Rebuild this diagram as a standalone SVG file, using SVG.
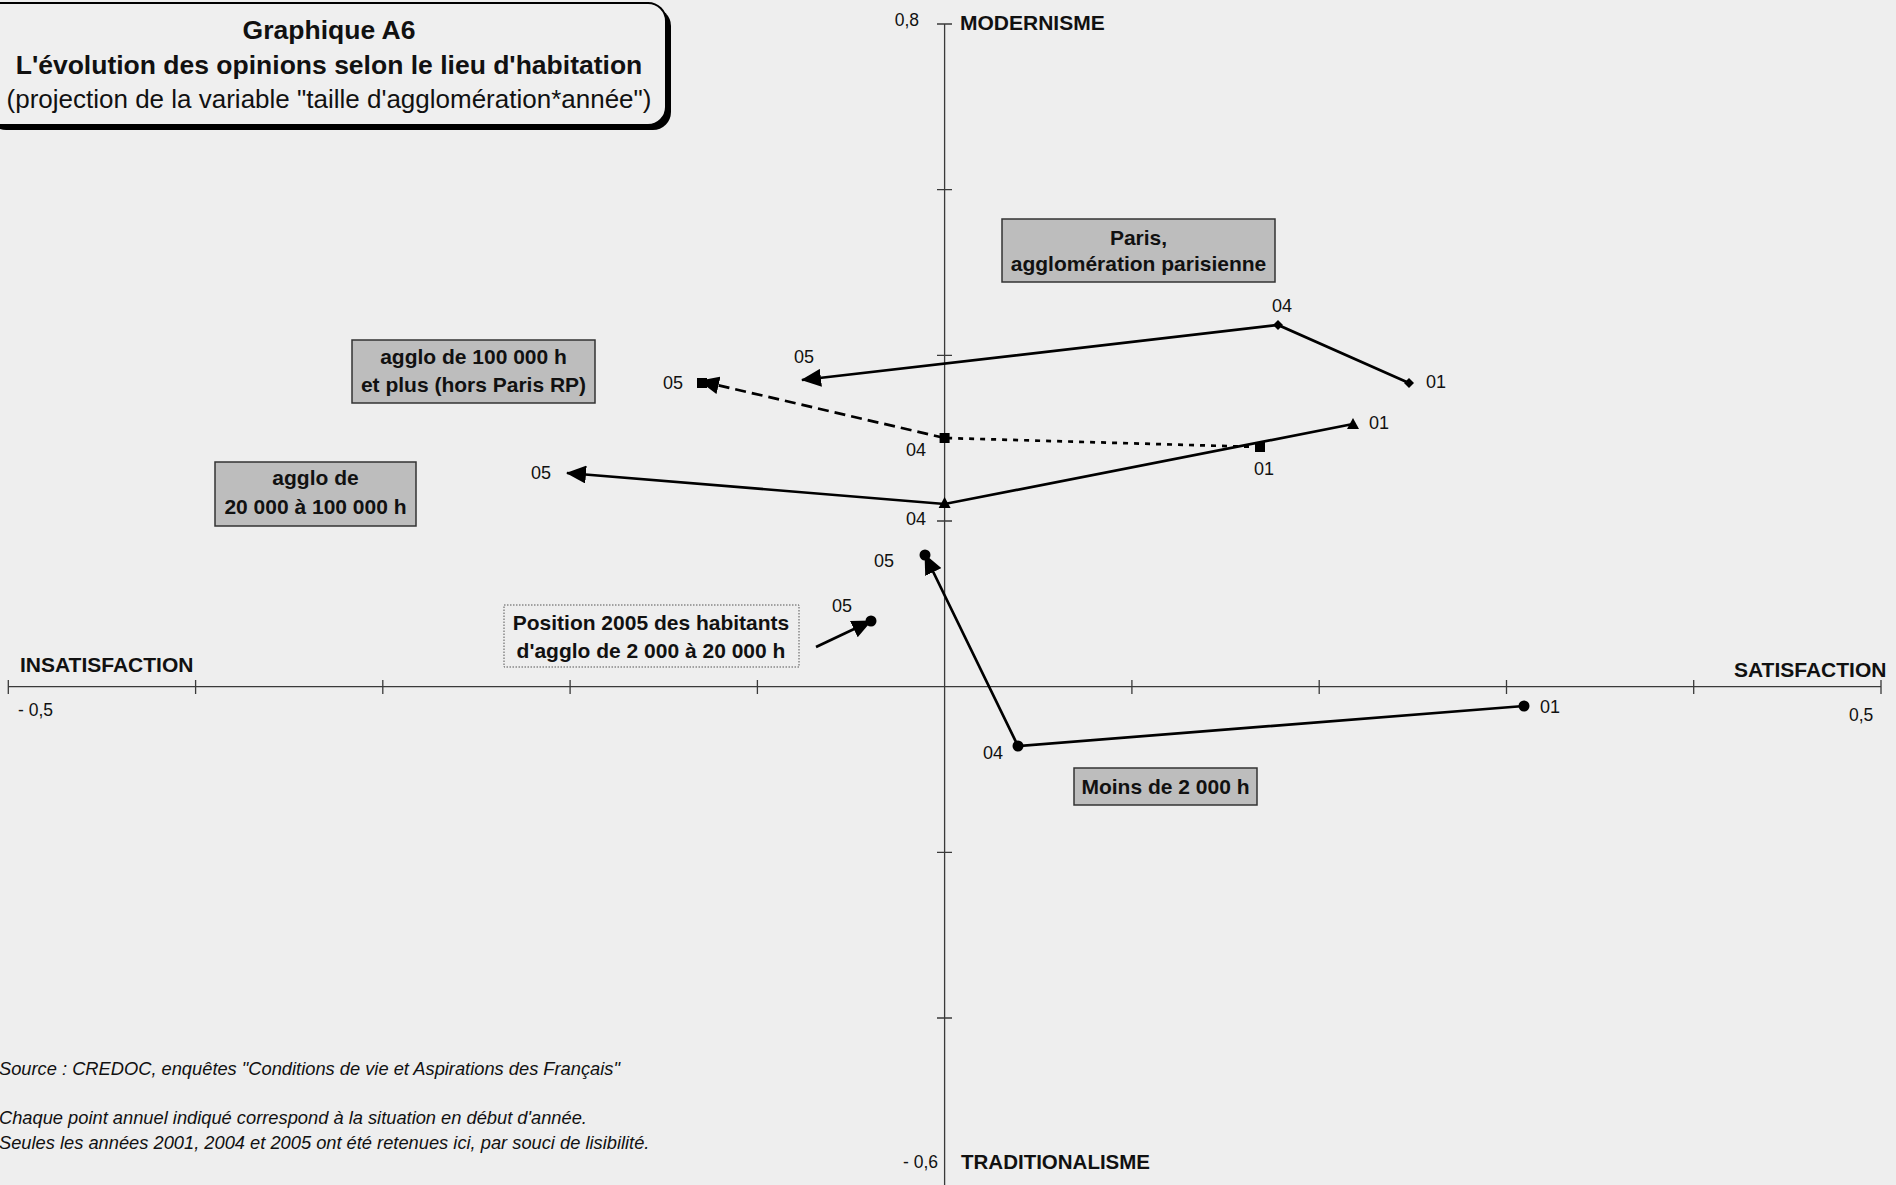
<svg xmlns="http://www.w3.org/2000/svg" xmlns:xlink="http://www.w3.org/1999/xlink" width="1896" height="1185" viewBox="0 0 1896 1185">
<style>
text{font-family:"Liberation Sans",Arial,sans-serif;fill:#111}
.t{font-weight:bold;font-size:26.5px}
.st{font-size:26px}
.ax{font-weight:bold;font-size:21px}
.num{font-size:17.5px}
.lab{font-weight:bold;font-size:21px}
.pt{font-size:18px}
.note{font-style:italic;font-size:18.3px}
.box{fill:#bdbdbd;stroke:#333;stroke-width:1.5}
.axis{stroke:#3a3a3a;stroke-width:1.3;fill:none}
.ser{stroke:#000;stroke-width:2.7;fill:none}
</style>
<defs>
<marker id="arr" viewBox="0 0 20 18" refX="19" refY="9" markerWidth="20" markerHeight="18" markerUnits="userSpaceOnUse" orient="auto">
<path d="M0,0 L20,9 L0,18 Z" fill="#000"/>
</marker>
<path id="dia" d="M0,-5 L5,0 L0,5 L-5,0Z" fill="#000"/>
<path id="tri" d="M0,-6 L6,5 L-6,5Z" fill="#000"/>
<rect id="sq" x="-5" y="-5" width="10" height="10" fill="#000"/>
<circle id="dot" r="5.5" fill="#000"/>
</defs>
<rect x="0" y="0" width="1896" height="1185" fill="#eeeeee"/>

<g id="title">
<rect x="-12" y="8" width="683" height="122" rx="18" fill="#000"/>
<rect x="-16" y="3" width="682" height="122" rx="18" fill="#efefef" stroke="#000" stroke-width="2"/>
<text class="t" x="329" y="39" text-anchor="middle">Graphique A6</text>
<text class="t" x="329" y="74" text-anchor="middle">L'évolution des opinions selon le lieu d'habitation</text>
<text class="st" x="329" y="108" text-anchor="middle">(projection de la variable "taille d'agglomération*année")</text>
</g>

<g id="axes">
<line class="axis" x1="944.6" y1="24" x2="944.6" y2="1185"/>
<line class="axis" x1="8.3" y1="686.7" x2="1881" y2="686.7"/>
<path class="axis" d="M937,24H952 M937,189.7H952 M937,355.4H952 M937,521H952 M937,852.4H952 M937,1018H952"/>
<path class="axis" d="M8.3,680V694 M195.6,680V694 M382.8,680V694 M570.1,680V694 M757.4,680V694 M1131.9,680V694 M1319.2,680V694 M1506.5,680V694 M1693.7,680V694 M1881,680V694"/>
<text class="num" x="919" y="26" text-anchor="end">0,8</text>
<text class="ax" x="960" y="30">MODERNISME</text>
<text class="ax" x="20" y="672">INSATISFACTION</text>
<text class="num" x="18" y="716">- 0,5</text>
<text class="ax" x="1734" y="677">SATISFACTION</text>
<text class="num" x="1849" y="721">0,5</text>
<text class="num" x="903" y="1168">- 0,6</text>
<text class="ax" x="961" y="1169" style="font-size:20.5px">TRADITIONALISME</text>
</g>

<g id="connectors">
<polyline class="ser" points="1409,383 1278,325 802,380" marker-end="url(#arr)"/>
<line class="ser" x1="1260" y1="447" x2="944.6" y2="438" stroke-width="3" stroke-dasharray="5,6"/>
<line class="ser" x1="944.6" y1="438" x2="700" y2="381" stroke-width="3" stroke-dasharray="11,6" marker-end="url(#arr)"/>
<polyline class="ser" points="1353,424 944.6,504 567,473" marker-end="url(#arr)"/>
<polyline class="ser" points="1524,706 1018,746 925,555" marker-end="url(#arr)"/>
<line class="ser" x1="816" y1="647" x2="871" y2="621" marker-end="url(#arr)"/>
</g>

<g id="series-paris">
<use xlink:href="#dia" x="1409" y="383"/>
<use xlink:href="#dia" x="1278" y="325"/>
<text class="pt" x="1426" y="388">01</text>
<text class="pt" x="1272" y="312">04</text>
<text class="pt" x="794" y="363">05</text>
</g>
<g id="series-100000">
<use xlink:href="#sq" x="1260" y="447"/>
<use xlink:href="#sq" x="944.6" y="438"/>
<use xlink:href="#sq" x="702" y="383"/>
<text class="pt" x="1254" y="475">01</text>
<text class="pt" x="906" y="456">04</text>
<text class="pt" x="663" y="389">05</text>
</g>
<g id="series-20000">
<use xlink:href="#tri" x="1353" y="424"/>
<use xlink:href="#tri" x="944.6" y="503"/>
<text class="pt" x="1369" y="429">01</text>
<text class="pt" x="906" y="525">04</text>
<text class="pt" x="531" y="479">05</text>
</g>
<g id="series-2000">
<use xlink:href="#dot" x="1524" y="706"/>
<use xlink:href="#dot" x="1018" y="746"/>
<use xlink:href="#dot" x="925" y="555"/>
<text class="pt" x="1540" y="713">01</text>
<text class="pt" x="983" y="759">04</text>
<text class="pt" x="874" y="567">05</text>
</g>
<g id="series-2000-20000">
<use xlink:href="#dot" x="871" y="621"/>
<text class="pt" x="832" y="612">05</text>
</g>

<g id="label-paris">
<rect class="box" x="1002" y="219" width="273" height="63"/>
<text class="lab" x="1138.5" y="245" text-anchor="middle">Paris,</text>
<text class="lab" x="1138.5" y="271" text-anchor="middle">agglomération parisienne</text>
</g>
<g id="label-100000">
<rect class="box" x="352" y="340" width="243" height="63"/>
<text class="lab" x="473.5" y="364" text-anchor="middle">agglo de 100 000 h</text>
<text class="lab" x="473.5" y="392" text-anchor="middle">et plus (hors Paris RP)</text>
</g>
<g id="label-20000">
<rect class="box" x="215" y="462" width="201" height="64"/>
<text class="lab" x="315.5" y="485" text-anchor="middle">agglo de</text>
<text class="lab" x="315.5" y="514" text-anchor="middle">20 000 à 100 000 h</text>
</g>
<g id="label-2000">
<rect class="box" x="1074" y="768" width="183" height="37"/>
<text class="lab" x="1165.5" y="794" text-anchor="middle">Moins de 2 000 h</text>
</g>
<g id="label-2000-20000">
<rect x="504" y="605" width="295" height="62" fill="none" stroke="#555" stroke-width="1" stroke-dasharray="1.5,1.5"/>
<text class="lab" x="651" y="630" text-anchor="middle">Position 2005 des habitants</text>
<text class="lab" x="651" y="658" text-anchor="middle">d'agglo de 2 000 à 20 000 h</text>
</g>

<g id="notes">
<text class="note" x="-1" y="1075">Source : CREDOC, enquêtes "Conditions de vie et Aspirations des Français"</text>
<text class="note" x="-1" y="1124">Chaque point annuel indiqué correspond à la situation en début d'année.</text>
<text class="note" x="-1" y="1149">Seules les années 2001, 2004 et 2005 ont été retenues  ici, par souci de lisibilité.</text>
</g>
</svg>
